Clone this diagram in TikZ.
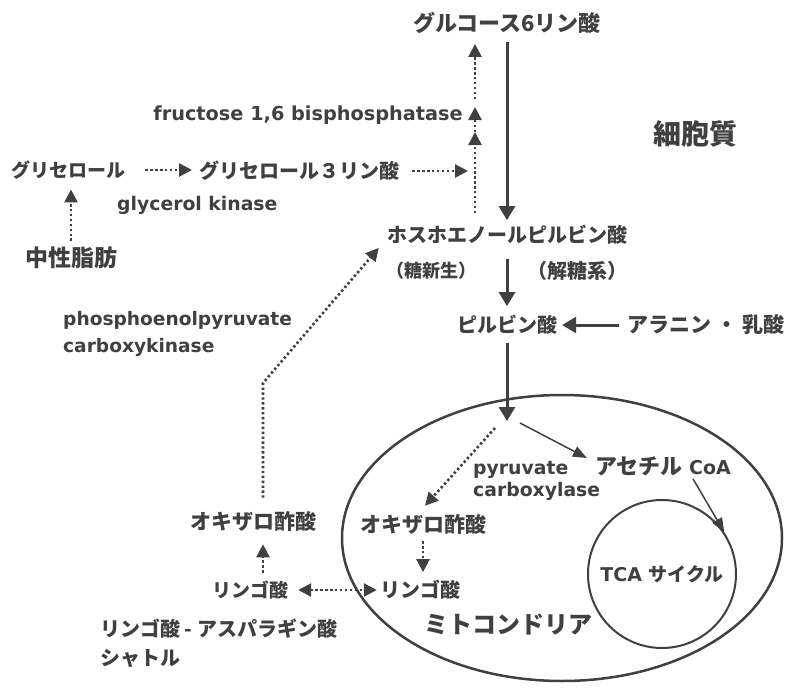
\documentclass[tikz,border=0pt]{standalone}
\usepackage{fontspec}
\setmainfont{DejaVu Sans}
\newfontfamily\jp{Noto Sans CJK JP}
\usetikzlibrary{arrows.meta,shapes.geometric}
\definecolor{ink}{gray}{0.25}
\newcommand\jpf[1]{\jp\bfseries\fontsize{#1}{#1}\selectfont}
\newcommand\ltf[1]{\bfseries\fontsize{#1}{#1}\selectfont}
\tikzset{
  jp/.style={font=\jpf{#1}, text=ink, inner sep=0pt},
  lt/.style={font=\ltf{#1}, text=ink, inner sep=0pt},
  sol/.style={draw=ink, line width=3pt, -{Triangle[length=14pt,width=16pt]}},
  thinarr/.style={draw=ink, line width=1.5pt, -{Triangle[length=14pt,width=11pt]}},
  dotarr/.style={draw=ink, line width=2.6pt, dash pattern=on 2.4pt off 2.5pt, -{Triangle[length=13pt,width=13pt]}},
  dotboth/.style={draw=ink, line width=2.6pt, dash pattern=on 2.4pt off 2.5pt, {Triangle[length=13pt,width=13pt]}-{Triangle[length=13pt,width=13pt]}},
}
\begin{document}
\begin{tikzpicture}[x=1pt,y=-1pt]
\useasboundingbox[fill=white] (0,0) rectangle (788,688);

% cytoplasm nodes
\node[jp=22] (g6p) at (507,23) {グルコース6リン酸};
\node[lt=19.3, anchor=east] (fbp) at (463,115) {fructose 1,6 bisphosphatase};
\node[jp=28] (cyto) at (695,134) {細胞質};
\node[jp=19, anchor=west] (gly) at (11,170) {グリセロール};
\node[jp=20, anchor=west] (g3p) at (199,171) {グリセロール３リン酸};
\node[lt=18.8, anchor=west] (gk) at (117,205) {glycerol kinase};
\node[jp=23] (fat) at (71,258) {中性脂肪};
\node[jp=20] (pep) at (507,235) {ホスホエノールピルビン酸};
\node[jp=18] (tou) at (431,271) {（糖新生）};
\node[jp=20] (kai) at (577,271) {（解糖系）};
\node[jp=20] (pyr) at (507,325) {ピルビン酸};
\node[jp=21] (ala) at (706,325) {アラニン ・ 乳酸};
\node[font=\bfseries\fontsize{18.6}{27}\selectfont, text=ink, inner sep=0pt, align=left, anchor=north west] (pepck) at (63,311) {phosphoenolpyruvate\\carboxykinase};

% mitochondrion
\node[draw=ink, line width=2.5pt, ellipse, minimum width=440pt, minimum height=286pt, inner sep=0pt] (mitoel) at (562,538) {};
\node[draw=ink, line width=2pt, circle, minimum size=148pt, inner sep=0pt, font=\ltf{19}, text=ink] (tca) at (662,574) {TCA {\jp サイクル}};
\node[jp=24] (mito) at (508,625) {ミトコンドリア};
\node[font=\ltf{19}, text=ink, inner sep=0pt] (acoa) at (663,466) {{\jpf{22}アセチル} CoA};
\node[font=\bfseries\fontsize{18.8}{22}\selectfont, text=ink, inner sep=0pt, align=left, anchor=north west] (pc) at (473,461) {pyruvate\\carboxylase};
\node[jp=21] (oaai) at (423,524) {オキザロ酢酸};
\node[jp=20] (mali) at (420,590) {リンゴ酸};

% shuttle side
\node[jp=21] (oaao) at (253,521) {オキザロ酢酸};
\node[jp=19] (malo) at (250,590) {リンゴ酸};
\node[font=\jp\bfseries\fontsize{20}{29}\selectfont, text=ink, inner sep=0pt, align=left, anchor=north west] (shut) at (100,619) {リンゴ酸 - アスパラギン酸\\シャトル};

% coordinates
\coordinate (pin) at (507,421);
\coordinate (colb) at (475,213);
\coordinate (colm1) at (475,132);
\coordinate (colm2) at (475,107);
\coordinate (bend) at (263,383);

% solid arrows
\draw[sol, shorten <=8pt, shorten >=5pt] (g6p) -- (pep);
\draw[sol, shorten <=14pt, shorten >=9pt] (pep) -- (pyr);
\draw[sol, shorten <=8pt] (pyr) -- (pin);
\draw[sol, shorten <=8pt, shorten >=5pt] (ala) -- (pyr);
\draw[thinarr] ([shift={(13,2)}]pin) -- ([shift={(-8,-8)}]acoa.west);
\draw[thinarr] ([shift={(30,3)}]acoa.south) -- (tca.34);

% dotted arrows
\draw[dotarr] ([shift={(-12,7)}]pin) -- ([shift={(2,-8)}]oaai.north);
\draw[dotarr, shorten <=7pt, shorten >=8pt] (oaai.south) -- (oaai.south |- mali.north);
\draw[dotboth, shorten <=10pt, shorten >=3pt] (malo.east) -- (malo.east -| mali.west);
\draw[dotarr, shorten <=8pt, shorten >=13pt] ([shift={(13,0)}]malo.north) -- ([shift={(13,0)}]malo.north |- oaao.south);
\draw[dotarr, shorten <=13pt] ([shift={(10,0)}]oaao.north) -- (bend) -- ([shift={(-8,3)}]pep.south west);
\draw[dotarr, shorten <=20pt, shorten >=7pt] (gly.east) -- (gly.east -| g3p.west);
\draw[dotarr, shorten <=6pt, shorten >=10pt] (fat.north) -- (fat.north |- gly.south);
\draw[dotarr, shorten <=13pt, shorten >=7pt] (g3p.east) -- (g3p.east -| colb);
\draw[dotarr] (colb) -- (colm1);
\draw[dotarr] (colm1) -- (colm2);
\draw[dotarr, shorten <=8pt, shorten >=10pt] (colm2) -- (g6p.south -| colm2);
\end{tikzpicture}
\end{document}
